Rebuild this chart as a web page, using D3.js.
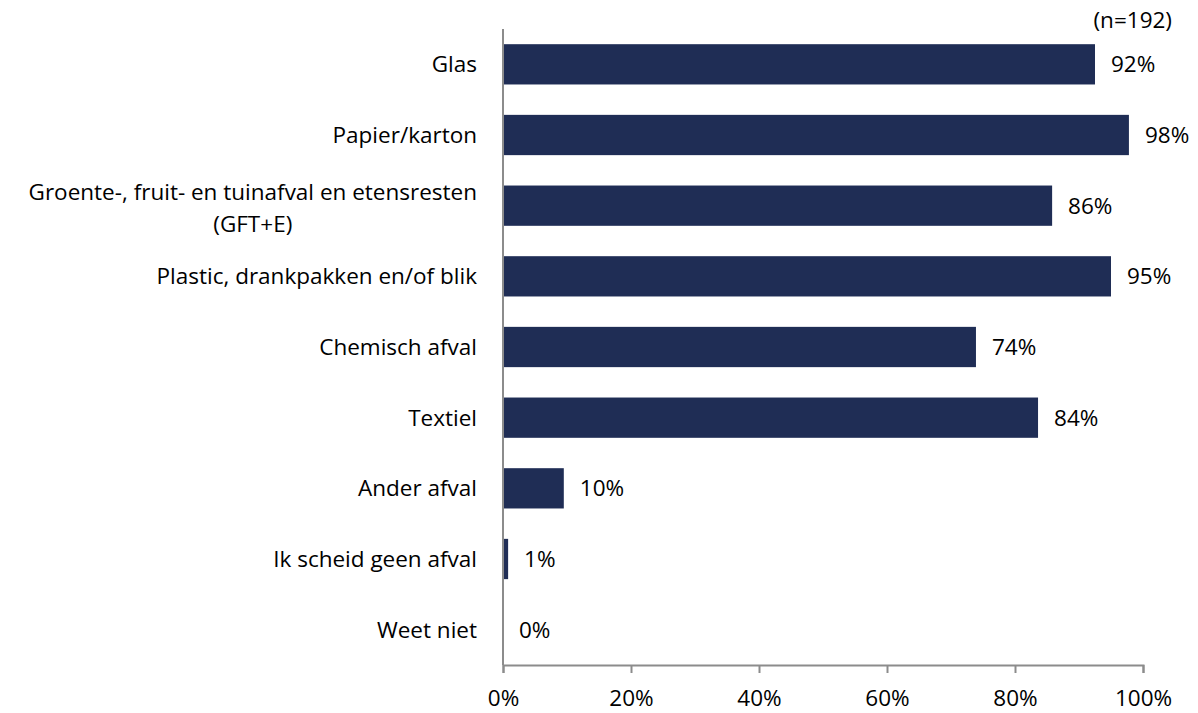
<!DOCTYPE html>
<html>
<head>
<meta charset="utf-8">
<script src="https://cdn.jsdelivr.net/npm/d3@7"></script>
<style>
  body { margin: 0; background: #fff; }
  text { font-family: "Open Sans", sans-serif; fill: #000; }
</style>
</head>
<body>
<div id="chart"></div>
<script>
// categories and shares (percent)
const categories = [
    ["Glas"],
    ["Papier/karton"],
    ["Groente-, fruit- en tuinafval en etensresten", "(GFT+E)"],
    ["Plastic, drankpakken en/of blik"],
    ["Chemisch afval"],
    ["Textiel"],
    ["Ander afval"],
    ["Ik scheid geen afval"],
    ["Weet niet"]
];
const values = [92.5, 97.8, 85.8, 95.0, 73.9, 83.6, 9.5, 0.8, 0];
const valueLabels = ["92%", "98%", "86%", "95%", "74%", "84%", "10%", "1%", "0%"];
const xTicks = [0, 20, 40, 60, 80, 100];
const note = "(n=192)";

const width = 1198, height = 713;
const margin = { top: 29, right: 55, bottom: 48, left: 503 };
const fontSize = "22.5px";

const svg = d3.select("#chart").append("svg")
    .attr("width", width)
    .attr("height", height);

const x = d3.scaleLinear()
    .domain([0, 100])
    .range([margin.left, width - margin.right]);

const y = d3.scaleBand()
    .domain(d3.range(categories.length))
    .range([margin.top, height - margin.bottom])
    .paddingInner(0.43)
    .paddingOuter(0.215);

// bars
svg.selectAll(".bar")
    .data(values)
    .enter()
    .append("rect")
    .attr("class", "bar")
    .attr("x", x(0))
    .attr("y", (d, i) => y(i))
    .attr("width", d => x(d) - x(0))
    .attr("height", y.bandwidth())
    .attr("fill", "#1f2d55");

// value labels
svg.selectAll(".val")
    .data(values)
    .enter()
    .append("text")
    .attr("class", "val")
    .attr("x", d => x(d) + 16)
    .attr("y", (d, i) => y(i) + y.bandwidth() / 2)
    .attr("dy", "0.35em")
    .attr("font-size", fontSize)
    .text((d, i) => valueLabels[i]);

// category labels
const lineGap = 32;
svg.selectAll(".cat")
    .data(categories)
    .enter()
    .append("text")
    .attr("class", "cat")
    .attr("text-anchor", "middle")
    .attr("font-size", fontSize)
    .each(function(lines, i) {
        const t = d3.select(this);
        const cy = y(i) + y.bandwidth() / 2 + (lines.length > 1 ? 2 : 0);
        lines.forEach((ln, k) => {
            t.append("tspan")
                .attr("y", cy + (k - (lines.length - 1) / 2) * lineGap)
                .attr("dy", "0.35em")
                .text(ln);
        });
    });

// right-align on the widest line, centre the lines under each other
svg.selectAll(".cat").each(function() {
    const tspans = d3.select(this).selectAll("tspan").nodes();
    const maxW = d3.max(tspans, n => n.getComputedTextLength());
    const centre = margin.left - 26 - maxW / 2;
    tspans.forEach(n => d3.select(n).attr("x", centre));
});

// x axis
const xAxis = d3.axisBottom(x)
    .tickValues(xTicks)
    .tickFormat(d => d + "%")
    .tickSize(8)
    .tickPadding(17);

const gx = svg.append("g")
    .attr("transform", `translate(0,${height - margin.bottom})`)
    .call(xAxis);
gx.select(".domain").attr("stroke", "#8c8c8c").attr("stroke-width", 2);
gx.selectAll(".tick line").attr("stroke", "#8c8c8c").attr("stroke-width", 2);
gx.selectAll(".tick text")
    .attr("font-size", fontSize)
    .attr("font-family", "'Open Sans', sans-serif")
    .attr("fill", "#000");

// y axis line
svg.append("line")
    .attr("x1", x(0))
    .attr("x2", x(0))
    .attr("y1", margin.top)
    .attr("y2", height - margin.bottom)
    .attr("stroke", "#8c8c8c")
    .attr("stroke-width", 2);

// sample size
svg.append("text")
    .attr("x", 1172)
    .attr("y", 20)
    .attr("dy", "0.35em")
    .attr("text-anchor", "end")
    .attr("font-size", fontSize)
    .text(note);
</script>
</body>
</html>
